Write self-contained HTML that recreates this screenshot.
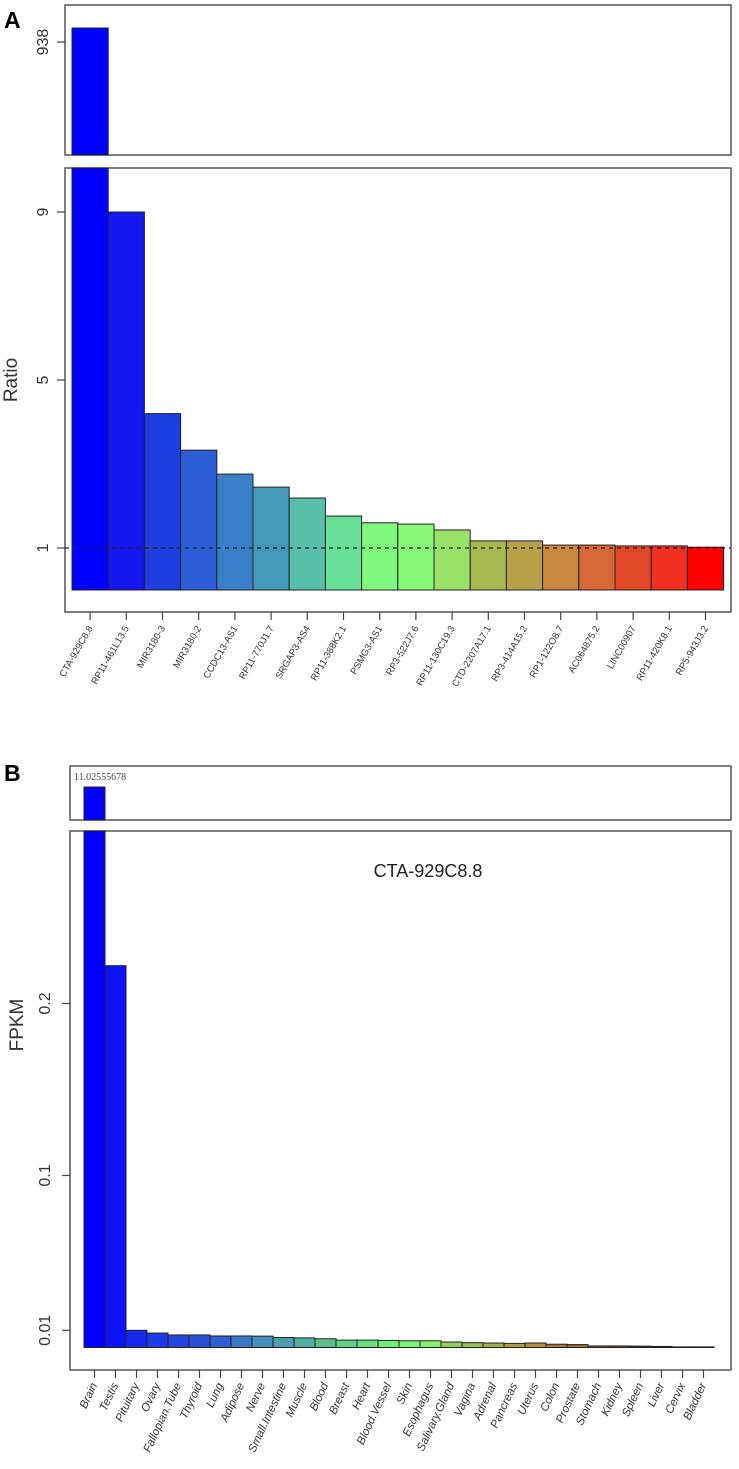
<!DOCTYPE html>
<html><head><meta charset="utf-8"><style>
html,body{margin:0;padding:0;background:#fff;}
svg{display:block;font-family:"Liberation Sans",Arial,sans-serif;}
</style></head><body>
<svg id="fig" width="739" height="1469" viewBox="0 0 739 1469" xmlns="http://www.w3.org/2000/svg">
<text x="4" y="28" font-size="23" font-weight="bold">A</text>
<text x="4" y="781" font-size="23" font-weight="bold">B</text>
</svg>
<script>
const genes=["CTA-929C8.8","RP11-461L13.5","MIR3180-3","MIR3180-2","CCDC13-AS1","RP11-770J1.7","SRGAP3-AS4","RP11-388K2.1","PSMG3-AS1","RP3-522J7.6","RP11-130C19.3","CTD-2207A17.1","RP3-414A15.2","RP1-122O8.7","AC064875.2","LINC00907","RP11-420K8.1","RP5-943J3.2"];
const ratios=[938,9,4.2,3.33,2.76,2.45,2.19,1.76,1.6,1.57,1.43,1.17,1.17,1.07,1.07,1.05,1.05,1.02];
const ratioTicks=[1,5,9];
const ratioColors=["#0000ff","#1418ee","#1e3ee0","#2c5ed8","#3a80c8","#4498b8","#58c0a8","#68e098","#80f880","#88f878","#98e068","#a8b850","#b8a048","#c88840","#d86838","#e04828","#f03020","#ff0000"];
const tissues=["Brain","Testis","Pituitary","Ovary","Fallopian.Tube","Thyroid","Lung","Adipose","Nerve","Small.Intestine","Muscle","Blood","Breast","Heart","Blood.Vessel","Skin","Esophagus","Salivary.Gland","Vagina","Adrenal","Pancreas","Uterus","Colon","Prostate","Stomach","Kidney","Spleen","Liver","Cervix","Bladder"];
const fpkm=[11.02555678,0.222,0.010,0.0084,0.0073,0.0073,0.0067,0.0067,0.0066,0.0058,0.0056,0.0051,0.0043,0.0043,0.0041,0.0039,0.0039,0.0032,0.0028,0.0026,0.0024,0.0026,0.0019,0.0017,0.0009,0.0009,0.0008,0.0006,0.0001,0.0];
const fpkmTicks=[0.01,0.1,0.2];
const fpkmTickLabels=["0.01","0.1","0.2"];
const fpkmColors=["#0000ff","#0a14f5","#1428ee","#1e3ae6","#2446de","#2a50d8","#3060d0","#3a78c8","#4490c0","#4aa0b0","#50b0a0","#58c090","#60d088","#68e080","#70f078","#78f870","#80f868","#90d058","#98c050","#a0b048","#a8a040","#b09038","#b07830","#a86828","#905030","#804030","#603028","#402020","#333333","#333333"];

const svg=document.getElementById('fig');
const NS="http://www.w3.org/2000/svg";
function mk(tag,attrs,parent){const e=document.createElementNS(NS,tag);for(const k in attrs)e.setAttribute(k,attrs[k]);(parent||svg).appendChild(e);return e;}

// ---------- Panel A ----------
const aX0=72,aW=36.2,aBase=590,aUnit=42;
const ay=v=>aBase-aUnit*v;
const aBreak=10.3;
const ayTop=v=>28+(938-v)*1.0; // upper box axis
let b=mk('rect',{x:65,y:5,width:666,height:150,fill:'none',stroke:'#555','stroke-width':1.5});


b=mk('rect',{x:65,y:168,width:666,height:444,fill:'none',stroke:'#555','stroke-width':1.5});


ratios.forEach((v,i)=>{
  const x=aX0+i*aW;
  if(v>aBreak){
    const top=Math.max(ayTop(v),8);
    let r=mk('rect',{x:x,y:top,width:aW,height:155-top,fill:ratioColors[i],stroke:'#222','stroke-width':1});
    
    
    r=mk('rect',{x:x,y:168,width:aW,height:aBase-168,fill:ratioColors[i],stroke:'#222','stroke-width':1});
    
    
  } else {
    const r=mk('rect',{x:x,y:ay(v),width:aW,height:aBase-ay(v),fill:ratioColors[i],stroke:'#222','stroke-width':1});
    
    
  }
  const cx=x+aW/2;
  mk('line',{x1:cx,y1:612,x2:cx,y2:620,stroke:'#444','stroke-width':1.2});
  const t=mk('text',{x:cx+3,y:628,'font-size':9.5,fill:'#333','text-anchor':'end',transform:`rotate(-60 ${cx+3} 628)`});
  t.textContent=genes[i];
  
  
});
let dl=mk('line',{x1:65,y1:ay(1),x2:731,y2:ay(1),stroke:'#222','stroke-width':1.3,'stroke-dasharray':'4,4'});


ratioTicks.forEach(v=>{
  const y=ay(v);
  mk('line',{x1:57,y1:y,x2:65,y2:y,stroke:'#444','stroke-width':1.2});
  const t=mk('text',{x:48,y:y,'font-size':16,fill:'#333','text-anchor':'middle',transform:`rotate(-90 48 ${y})`});
  t.textContent=String(v);
  
  
});
mk('line',{x1:57,y1:42,x2:65,y2:42,stroke:'#444','stroke-width':1.2});
let t938=mk('text',{x:48,y:42,'font-size':16,fill:'#333','text-anchor':'middle',transform:'rotate(-90 48 42)'});
t938.textContent='938';


let yt=mk('text',{x:17,y:380,'font-size':19,fill:'#333','text-anchor':'middle',transform:'rotate(-90 17 380)'});
yt.textContent='Ratio';



// ---------- Panel B ----------
const bX0=84,bW=21,bBase=1347.5,bUnit=1720;
const by=v=>bBase-bUnit*v;
b=mk('rect',{x:70,y:766,width:661,height:54,fill:'none',stroke:'#555','stroke-width':1.5});


b=mk('rect',{x:70,y:831,width:661,height:539,fill:'none',stroke:'#555','stroke-width':1.5});


fpkm.forEach((v,i)=>{
  const x=bX0+i*bW;
  if(v>0.29){
    let r=mk('rect',{x:x,y:787,width:bW,height:33,fill:fpkmColors[i],stroke:'#222','stroke-width':1});
    
    
    let lt=mk('text',{x:x-10,y:780,'font-size':10,fill:'#444','font-family':'"Liberation Serif",serif'});
    lt.textContent=String(v);
    
    
    r=mk('rect',{x:x,y:831,width:bW,height:bBase-831,fill:fpkmColors[i],stroke:'#222','stroke-width':1});
    
    
  } else {
    const h=Math.max(bBase-by(v),0.6);
    const r=mk('rect',{x:x,y:bBase-h,width:bW,height:h,fill:fpkmColors[i],stroke:'#222','stroke-width':1});
    
    
  }
  const cx=x+bW/2;
  mk('line',{x1:cx,y1:1370,x2:cx,y2:1378,stroke:'#444','stroke-width':1.2});
  const t=mk('text',{x:cx+3,y:1385,'font-size':11.5,fill:'#333','font-style':'italic','text-anchor':'end',transform:`rotate(-65 ${cx+3} 1385)`});
  t.textContent=tissues[i];
  
  
});
fpkmTicks.forEach((v,i)=>{
  const y=by(v);
  mk('line',{x1:62,y1:y,x2:70,y2:y,stroke:'#444','stroke-width':1.2});
  const t=mk('text',{x:50,y:y,'font-size':16,fill:'#333','text-anchor':'middle',transform:`rotate(-90 50 ${y})`});
  t.textContent=fpkmTickLabels[i];
  
  
});
let yb=mk('text',{x:23,y:1025,'font-size':19,fill:'#333','text-anchor':'middle',transform:'rotate(-90 23 1025)'});
yb.textContent='FPKM';


let gt=mk('text',{x:428,y:877,'font-size':18,fill:'#222','text-anchor':'middle'});
gt.textContent='CTA-929C8.8';


</script>
</body></html>
